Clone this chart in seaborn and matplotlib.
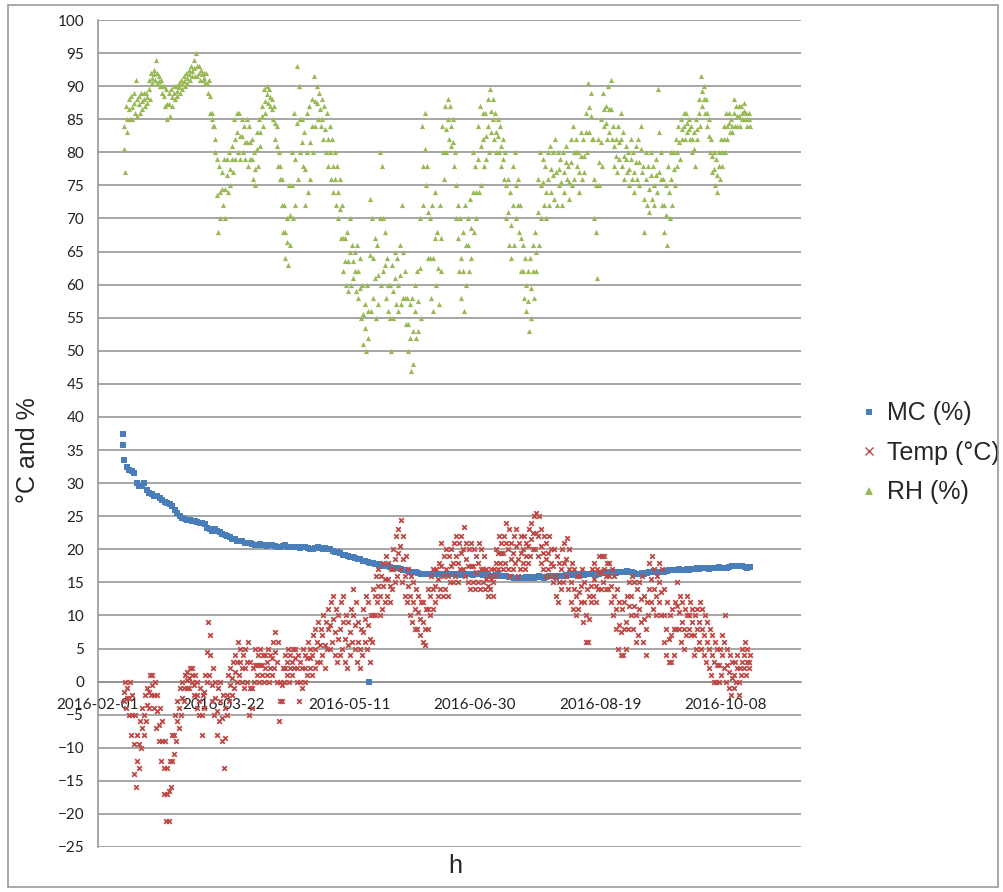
import numpy as np
import pandas as pd
import matplotlib
matplotlib.use("Agg")
import matplotlib.pyplot as plt
import matplotlib.dates as mdates
from matplotlib.lines import Line2D
from matplotlib.patches import Rectangle
import seaborn as sns

# ---------------- data (daily readings) ----------------
start_date = "2016-02-01"
first_day = 10          # first logged day after start_date

# Relative humidity: daily low / middle / high (%)
rh_lo = [
    77, 83, 85, 85, 86, 85.5, 86, 86.5, 87, 87.5,
    88, 90.5, 91, 90.5, 90, 89, 87, 85, 85.5, 87,
    88, 88.5, 89, 89.5, 90, 90.5, 91, 91.5, 91.5, 91.5,
    91, 91, 90.5, 89, 86, 84, 80, 68, 70, 72,
    70, 74, 75, 77, 79, 80, 79, 80, 79, 78,
    79, 76, 75, 78, 81, 84, 86, 87.5, 87, 85,
    82, 78, 76, 68, 64, 63, 66, 70, 72, 76,
    80, 78, 72, 74, 76, 80, 84, 85, 84, 82,
    80, 78, 76, 74, 72, 70, 67, 62, 60, 59,
    60, 61, 59, 58, 55, 51, 50, 52, 56, 58,
    55, 57, 60, 62, 58, 56, 50, 55, 57, 56,
    57, 58, 54, 50, 47, 48, 52, 53, 55, 72,
    75, 64, 58, 56, 60, 57, 62, 76, 80, 82,
    81, 78, 70, 62, 58, 56, 60, 62, 64, 68,
    70, 74, 75, 78, 79, 80, 83, 82, 80, 80,
    78, 76, 70, 66, 64, 66, 70, 68, 62, 58,
    56, 53, 55, 58, 62, 66, 70, 72, 70, 72,
    74, 73, 72, 75, 72, 74, 76, 73, 75, 76,
    78, 74, 76, 77, 80, 83, 82, 70, 61, 75,
    78, 84, 82, 83, 82, 78, 77, 79, 78, 76,
    77, 75, 76, 74, 76, 75, 77, 68, 72, 71,
    73, 72, 74, 77, 72, 68, 66, 70, 72, 75,
    78, 79, 82, 82, 83, 82, 80, 78, 82, 84,
    87, 86, 84, 80, 77, 75, 74, 76, 78, 80,
    82, 83, 83, 84, 84, 84, 85, 85, 84, 84,
]
rh_mid = [
    80.5, 85, 86.5, 86.8, 87.5, 88, 87.3, 87.8, 88, 88.3,
    89.5, 91.3, 91.8, 92, 90.8, 90, 88.5, 87.3, 87.3, 88.3,
    89, 89.3, 89.8, 90.3, 90.8, 91.3, 91.8, 92.3, 92.8, 93,
    92, 91.8, 91.3, 90.5, 88.5, 85, 82, 73.5, 74, 74.5,
    74.5, 76.5, 77.5, 79, 82, 83, 82.5, 82.5, 81.5, 81.5,
    81.5, 79, 77.5, 80.5, 83, 85.5, 87.8, 88.8, 88.3, 86.5,
    84.5, 81, 78, 72, 68, 66.5, 70.5, 75, 79, 84.5,
    85, 81.5, 77.5, 80, 81.5, 84, 87.8, 87.5, 86.5, 85,
    83.5, 82, 80, 78, 76, 74, 71.5, 67, 63.5, 63.5,
    65, 63.5, 62, 62, 59.5, 55.5, 53.5, 56, 64.5, 64,
    61, 61.5, 70, 70, 63, 60, 55, 59, 61, 60,
    61.5, 65, 58, 54, 52, 53, 56, 57.5, 62.5, 78,
    80.5, 71, 64, 64, 67, 62.5, 67, 80, 83.5, 85,
    84, 81.5, 75, 67, 64, 62, 66, 66, 68.5, 74,
    74, 79, 81, 82, 82.5, 84, 86.3, 85, 83, 82.5,
    81, 79, 75, 71, 69, 72, 75, 72, 67, 62,
    60, 57.5, 59.5, 62, 65, 71, 75, 75.5, 74, 76,
    77.5, 76.5, 77, 77.5, 75.5, 77, 78.5, 75.5, 78.5, 80,
    80, 77, 79.5, 79.5, 83, 86.8, 85.5, 76, 68, 78.5,
    81.5, 86.5, 84.5, 86.5, 86.5, 81, 79.5, 81.5, 82, 79.5,
    79, 77.5, 79, 77, 78.5, 78.5, 80.5, 73, 76, 74.5,
    76.5, 75, 76.5, 83, 76, 72, 70.5, 74, 76, 77.5,
    80, 81.5, 83.5, 84, 84.5, 83.5, 82, 80.5, 83.5, 86,
    89.3, 88, 86, 82.5, 79.5, 77.5, 76.5, 78, 80, 82,
    84, 84.5, 84, 86, 85.5, 85.5, 86, 86.3, 85, 85,
]
rh_hi = [
    84, 87, 88, 88.5, 89, 91, 88.5, 89, 89, 89,
    91, 92, 92.5, 94, 91.5, 91, 90, 89.5, 89, 89.5,
    90, 90, 90.5, 91, 91.5, 92, 92.5, 93, 94, 95,
    93, 92.5, 92, 92, 91, 86, 84, 79, 78, 77,
    79, 79, 80, 81, 85, 86, 86, 85, 84, 85,
    84, 82, 80, 83, 85, 87, 89.5, 90, 89.5, 88,
    87, 84, 80, 76, 72, 70, 75, 80, 86, 93,
    90, 85, 83, 86, 87, 88, 91.5, 90, 89, 88,
    87, 86, 84, 82, 80, 78, 76, 72, 67, 68,
    70, 66, 65, 66, 64, 60, 57, 60, 73, 70,
    67, 66, 80, 78, 68, 64, 60, 63, 65, 64,
    66, 72, 62, 58, 57, 58, 60, 62, 70, 84,
    86, 78, 70, 72, 74, 68, 72, 84, 87, 88,
    87, 85, 80, 72, 70, 68, 72, 70, 73, 80,
    78, 84, 87, 86, 86, 88, 89.5, 88, 86, 85,
    84, 82, 80, 76, 74, 78, 80, 76, 72, 66,
    64, 62, 64, 66, 68, 76, 80, 79, 78, 80,
    81, 80, 82, 80, 79, 80, 81, 78, 82, 84,
    82, 80, 83, 82, 86, 90.5, 89, 82, 75, 82,
    85, 89, 87, 90, 91, 84, 82, 84, 86, 83,
    81, 80, 82, 80, 81, 82, 84, 78, 80, 78,
    80, 78, 79, 89.5, 80, 76, 75, 78, 80, 80,
    82, 84, 85, 86, 86, 85, 84, 83, 85, 88,
    91.5, 90, 88, 85, 82, 80, 79, 80, 82, 84,
    86, 86, 85, 88, 87, 87, 87, 87.5, 86, 86,
]

# Temperature: daily low / middle / high (degC)
temp_lo = [
    -3, -4, -5, -8, -14, -16, -13, -10, -8, -6,
    -4, -2, -4, -7, -9, -12, -17, -21, -21, -16,
    -11, -9, -7, -5, -3, -1, -1, 0, -2, -4,
    -5, -8, -4, 0, 1, -3, -5, -8, -6, -9,
    -13, -5, -3, -2, -1, 0, 1, 0, -1, 0,
    -5, -4, 0, 1, 0, 1, 0, 1, 0, 1,
    2, 0, -6, -3, 0, 1, 0, 1, 2, 0,
    -3, -1, 0, 1, 2, 1, 2, 3, 3, 4,
    2, 5, 5, 6, 4, 3, 4, 5, 3, 2,
    4, 6, 5, 3, 2, 4, 6, 5, 3, 6,
    10, 12, 10, 11, 12, 13, 12, 14, 15, 16,
    17, 15, 13, 12, 10, 9, 8, 8, 7, 6,
    5.5, 8, 10, 11, 12, 13, 14, 13, 14, 13,
    15, 15, 16, 15, 17, 17, 16, 15, 14, 15,
    14, 15, 14, 15, 14, 13, 14, 13, 16, 17,
    18, 17, 18, 17, 16, 17, 18, 16, 17, 18,
    17, 18, 19, 20, 20, 19, 18, 17, 16, 17,
    16, 15, 13, 12, 14, 15, 16, 14, 12, 11,
    10, 11, 12, 9, 6, 6, 12, 13, 12, 14,
    14, 15, 14, 14, 12, 10, 8, 5, 4, 4,
    5, 8, 10, 8, 6, 7, 9, 6, 4, 10,
    12, 11, 10, 12, 10, 6, 4, 3, 3, 4,
    8, 8, 6, 5, 7, 8, 7, 4, 5, 6,
    5, 4, 3, 2, 1, 0, 0, 0, 1, 2,
    0, -1, -2, -1, 0, -2, 1, 2, 1, 2,
]
temp_mid = [
    -1.5, -2.5, -2.5, -5, -9.5, -12, -9.5, -7, -5, -3.5,
    -1.5, -0.5, -2, -4.5, -6.5, -9, -13, -17, -16.5, -12,
    -8, -6, -4, -2.5, -1, 0.3, 0.5, 1, -0.5, -2,
    -3, -5, -1.5, 4.5, 4, -0.5, -2.5, -4.5, -3, -5.5,
    -8.5, -2, -0.5, 0.5, 1.5, 3, 3, 2, 2, 3,
    -1, -1, 2.5, 2.5, 2.5, 2.5, 2, 3, 2, 3.5,
    4.5, 3, -3, -0.5, 2, 3, 2, 3, 3.5, 2,
    0, 2, 2, 3.5, 3.5, 4, 5, 6, 5.5, 7,
    5.5, 8, 8.5, 9.5, 7.5, 6.5, 8, 9, 6.5, 5.5,
    7.5, 10, 8.5, 6, 5, 7.5, 9.5, 8.5, 6.5, 10,
    13, 14.5, 13, 14.5, 15.5, 15.5, 14.5, 17, 18.5, 19.5,
    20.5, 18.5, 16, 14.5, 13, 12, 11, 10.5, 9.5, 9,
    8, 11, 13, 14, 14.5, 15.5, 17.5, 16, 17, 16,
    17.5, 18, 19, 18, 19.5, 20, 18.5, 17.5, 17.5, 17.5,
    16.5, 18, 17, 17, 15.5, 14.5, 15.5, 15, 18, 19.5,
    19.5, 19.5, 21, 20, 18.5, 19.5, 20.5, 18.5, 19.5, 20,
    19, 20.5, 21.5, 22.5, 22.5, 22, 20.5, 19.5, 18.5, 19.5,
    18, 17.5, 16, 15, 17, 18, 18.5, 17, 15, 14,
    13, 13.5, 14.5, 12, 10, 9.5, 14.5, 15.5, 14.5, 16.5,
    16.5, 17, 16, 16, 14.5, 13, 11, 8.5, 7.5, 8,
    9, 11.5, 13, 11.5, 10, 11, 12.5, 9.5, 8, 14,
    15.5, 14, 13, 15, 13.5, 10, 8, 6.5, 7, 8,
    11.5, 10.5, 9, 8, 10, 10, 9, 7, 8, 9,
    8, 7, 6, 5, 4, 3, 2.5, 2.5, 4, 6,
    2.5, 1.5, 0.5, 1, 2, 0, 3, 4, 3, 3,
]
temp_hi = [
    0, -1, 0, -2, -5, -8, -6, -4, -2, -1,
    1, 1, 0, -2, -4, -6, -9, -13, -12, -8,
    -5, -3, -1, 0, 1, 1.5, 2, 2, 1, 0,
    -1, -2, 1, 9, 7, 2, 0, -1, 0, -2,
    -4, 1, 2, 3, 4, 6, 5, 4, 5, 6,
    3, 2, 5, 4, 5, 4, 4, 5, 4, 6,
    7.5, 6, 0, 2, 4, 5, 4, 5, 5, 4,
    3, 5, 4, 6, 5, 7, 8, 9, 8, 10,
    9, 11, 12, 13, 11, 10, 12, 13, 10, 9,
    11, 14, 12, 9, 8, 11, 13, 12, 10, 14,
    16, 17, 16, 18, 19, 18, 17, 20, 22, 23,
    24.5, 22, 19, 17, 16, 15, 14, 13, 12, 12,
    11, 14, 16, 17, 17, 18, 21, 19, 20, 19,
    20, 21, 22, 21, 22, 23.3, 21, 20, 21, 20,
    19, 21, 20, 19, 17, 16, 17, 17, 20, 22,
    21, 22, 24, 23, 21, 22, 23, 21, 22, 22,
    21, 23, 24, 25, 25.5, 25, 23, 22, 21, 22,
    20, 20, 19, 18, 20, 21, 21.7, 20, 18, 17,
    16, 16, 17, 15, 14, 13, 17, 18, 17, 19,
    19, 19, 18, 18, 17, 16, 14, 12, 11, 12,
    13, 15, 16, 15, 14, 15, 16, 13, 12, 18,
    19, 17, 16, 18, 17, 14, 12, 10, 11, 12,
    15, 13, 12, 11, 13, 12, 11, 10, 11, 12,
    11, 10, 9, 8, 7, 6, 5, 5, 7, 10,
    5, 4, 3, 3, 4, 2, 5, 6, 5, 4,
]

# Moisture content: daily reading (%)
mc = [
    33.5, 32.5, 32, 31.8, 31.5, 30, 29.5, 29.5, 30, 29,
    28.5, 28.3, 28, 28, 27.8, 27.5, 27.2, 27, 26.8, 26.5,
    26, 25.5, 25, 24.8, 24.6, 24.5, 24.4, 24.3, 24.2, 24.1,
    24, 24, 23.8, 23.2, 23, 22.8, 23, 22.8, 22.6, 22.3,
    22.2, 22, 21.8, 21.6, 21.5, 21.3, 21.2, 21.2, 21, 21,
    20.9, 20.8, 20.6, 20.7, 20.8, 20.7, 20.6, 20.5, 20.6, 20.7,
    20.5, 20.4, 20.4, 20.5, 20.6, 20.4, 20.3, 20.3, 20.4, 20.3,
    20.2, 20.3, 20.4, 20.2, 20.1, 20, 20.2, 20.3, 20.2, 20.1,
    20.2, 20.1, 20, 19.8, 19.6, 19.6, 19.4, 19.2, 19.2, 19.0,
    18.9, 18.8, 18.7, 18.6, 18.5, 18.3, 18.2, 18.1, 18.0, 17.9,
    17.8, 17.7, 17.6, 17.5, 17.5, 17.4, 17.3, 17.2, 17.2, 17.1,
    17.0, 16.9, 16.8, 16.7, 16.6, 16.5, 16.5, 16.4, 16.3, 16.2,
    16.2, 16.2, 16.3, 16.2, 16.3, 16.2, 16.3, 16.3, 16.3, 16.3,
    16.2, 16.2, 16.3, 16.2, 16.1, 16.2, 16.2, 16.3, 16.2, 16.1,
    16.2, 16.3, 16.2, 16.1, 16.2, 16.1, 16.0, 16.0, 16.1, 16.2,
    16.0, 15.9, 15.9, 15.8, 15.8, 15.7, 15.7, 15.6, 15.6, 15.7,
    15.8, 15.7, 15.8, 15.7, 15.8, 15.9, 15.8, 15.7, 15.8, 15.9,
    16.0, 15.9, 15.8, 15.9, 16.0, 16.0, 16.1, 16.1, 16.2, 16.1,
    16.2, 16.3, 16.2, 16.1, 16.2, 16.2, 16.3, 16.2, 16.1, 16.3,
    16.4, 16.5, 16.4, 16.5, 16.6, 16.5, 16.4, 16.5, 16.6, 16.6,
    16.7, 16.6, 16.5, 16.4, 16.3, 16.3, 16.4, 16.3, 16.4, 16.5,
    16.6, 16.7, 16.6, 16.6, 16.5, 16.6, 16.7, 16.8, 16.9, 16.8,
    16.9, 17.0, 16.9, 16.9, 17.0, 16.9, 17.0, 17.0, 17.1, 17.0,
    17.1, 17.2, 17.1, 17.0, 17.1, 17.2, 17.2, 17.3, 17.2, 17.1,
    17.2, 17.3, 17.4, 17.5, 17.4, 17.5, 17.4, 17.3, 17.2, 17.3,
]
# isolated MC readings (day offset, value)
mc_extra_days = [10, 10, 108]
mc_extra_vals = [37.4, 35.7, 0.0]

series_labels = ["MC (%)", "Temp (°C)", "RH (%)"]
series_colors = ["#4A7EBB", "#BE4B48", "#98B954"]
x_tick_days = [0, 50, 100, 150, 200, 250]
x_span_days = 280
y_ticks = list(range(-25, 101, 5))

# ---------------- build frames ----------------
start = pd.Timestamp(start_date)
n = min(len(mc), len(rh_lo), len(rh_mid), len(rh_hi),
        len(temp_lo), len(temp_mid), len(temp_hi))
day_idx = np.arange(first_day, first_day + n)
dates = start + pd.to_timedelta(day_idx, unit="D")


def triple_frame(parts):
    """parts: list of (values, hour_of_day)"""
    t = np.concatenate([(dates + pd.Timedelta(hours=h)).values for _, h in parts])
    v = np.concatenate([np.asarray(vals[:n], float) for vals, _ in parts])
    return pd.DataFrame({"time": t, "value": v})


temp_df = triple_frame([(temp_lo, 6), (temp_mid, 10), (temp_hi, 15)])
rh_df = triple_frame([(rh_hi, 5), (rh_mid, 10), (rh_lo, 15)])
mc_df = pd.DataFrame({
    "time": np.concatenate([(dates + pd.Timedelta(hours=12)).values,
                            (start + pd.to_timedelta(mc_extra_days, unit="D")).values]),
    "value": np.concatenate([np.asarray(mc[:n], float), np.asarray(mc_extra_vals, float)]),
})

# ---------------- plot ----------------
sns.set_style("white")
plt.rcParams["font.family"] = ["Liberation Sans", "DejaVu Sans"]

fig = plt.figure(figsize=(10.04, 8.92), dpi=100)
ax = fig.add_axes([98 / 1004, 1 - 847 / 892, (801 - 98) / 1004, (847 - 20) / 892])

grid_c = "#8e8e8e"
for yv in y_ticks:
    ax.axhline(yv, color=grid_c, lw=1.1, zorder=0.5)

sns.scatterplot(data=mc_df, x="time", y="value", marker="s", color=series_colors[0],
                s=19, linewidth=0, ax=ax, zorder=2)
sns.scatterplot(data=temp_df, x="time", y="value", marker="x", color=series_colors[1],
                s=11, linewidth=1.3, ax=ax, zorder=3)
sns.scatterplot(data=rh_df, x="time", y="value", marker="^", color=series_colors[2],
                s=14, linewidth=0, ax=ax, zorder=4)

ax.set_ylim(-25, 100)
ax.set_yticks(y_ticks)
ax.set_xlim(start, start + pd.Timedelta(days=x_span_days))
ax.set_xticks([start + pd.Timedelta(days=d) for d in x_tick_days])
ax.xaxis.set_major_formatter(mdates.DateFormatter("%Y-%m-%d"))

for side in ["top", "right"]:
    ax.spines[side].set_visible(False)
ax.spines["bottom"].set_position(("data", 0))
ax.spines["bottom"].set_color(grid_c)
ax.spines["left"].set_color(grid_c)
ax.spines["bottom"].set_linewidth(1.1)
ax.spines["left"].set_linewidth(1.1)
ax.spines["bottom"].set_zorder(1)

ax.tick_params(axis="y", direction="out", length=4, width=1, color=grid_c, pad=6,
               labelsize=11, labelcolor="#222222")
ax.tick_params(axis="x", direction="out", length=4, width=1, color=grid_c, pad=8,
               labelsize=11, labelcolor="#222222")
for lab in ax.get_xticklabels() + ax.get_yticklabels():
    lab.set_fontfamily(["Lato", "DejaVu Sans"])

ax.set_xlabel("h", fontsize=18)
ax.set_ylabel("°C and %", fontsize=18)
ax.xaxis.set_label_coords(0.508, -0.008)
ax.yaxis.set_label_coords(-0.083, 0.48)

handles = [
    Line2D([], [], marker="s", color=series_colors[0], ls="none", markersize=5, mew=0),
    Line2D([], [], marker="x", color=series_colors[1], ls="none", markersize=5.5, mew=1),
    Line2D([], [], marker="^", color=series_colors[2], ls="none", markersize=5.5, mew=0),
]
leg = ax.legend(handles, series_labels, loc="center left", frameon=False,
                bbox_to_anchor=(850 / 1004, 1 - 453 / 892), bbox_transform=fig.transFigure,
                fontsize=18, handlelength=0.7, handletextpad=0.4, labelspacing=0.62,
                borderaxespad=0)

fig.patches.append(Rectangle((8 / 1004, 1 - 887 / 892), 990 / 1004, 882 / 892,
                             transform=fig.transFigure, fill=False,
                             edgecolor="#9a9a9a", lw=1.2))

fig.savefig("out.png", dpi=100)
